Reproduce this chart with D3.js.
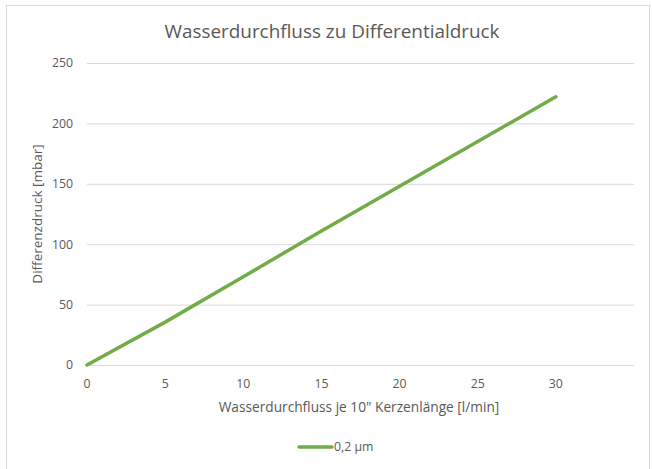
<!DOCTYPE html>
<html><head><meta charset="utf-8">
<script src="https://cdn.jsdelivr.net/npm/d3@7"></script>
<style>body{margin:0;background:#fff}svg{display:block}</style>
</head><body>
<script>
const flow = [0, 5, 10, 15, 20, 25, 30];
const pressure = [0, 35.5, 73, 111, 148, 185, 222];
const xTicks = [0, 5, 10, 15, 20, 25, 30];
const yTicks = [0, 50, 100, 150, 200, 250];
const seriesName = "0,2 µm";
const title = "Wasserdurchfluss zu Differentialdruck";
const xTitle = "Wasserdurchfluss je 10\" Kerzenlänge [l/min]";
const yTitle = "Differenzdruck [mbar]";

const W = 652, H = 469;
const font = "'Open Sans', sans-serif";
const grey = "#595959";
const svg = d3.select("body").append("svg").attr("width", W).attr("height", H);
svg.append("rect").attr("x", 6.5).attr("y", 5.5).attr("width", 643).attr("height", 470)
  .attr("fill", "#fff").attr("stroke", "#d9d9d9");

const x = d3.scaleLinear().domain([0, 35]).range([87, 634]);
const y = d3.scaleLinear().domain([0, 250]).range([365, 63]);

svg.append("g").selectAll("line").data(yTicks).join("line")
  .attr("x1", x(0)).attr("x2", x(35))
  .attr("y1", d => y(d) + 0.5).attr("y2", d => y(d) + 0.5)
  .attr("stroke", "#d9d9d9").attr("stroke-width", 1);

svg.append("g").selectAll("text").data(yTicks).join("text")
  .attr("x", 73).attr("y", d => y(d)).attr("dy", "0.35em")
  .attr("text-anchor", "end").attr("font-family", font).attr("font-size", 12.3)
  .attr("fill", grey).text(d => d);

svg.append("g").selectAll("text").data(xTicks).join("text")
  .attr("x", d => x(d)).attr("y", 388)
  .attr("text-anchor", "middle").attr("font-family", font).attr("font-size", 12.3)
  .attr("fill", grey).text(d => d);

const line = d3.line().x(d => x(d[0])).y(d => y(d[1]));
svg.append("path").datum(flow.map((f, i) => [f, pressure[i]]))
  .attr("d", line).attr("fill", "none").attr("stroke", "#70ad47")
  .attr("stroke-width", 3.5).attr("stroke-linecap", "round").attr("stroke-linejoin", "round");

svg.append("text").attr("x", 332).attr("y", 38).attr("text-anchor", "middle")
  .attr("font-family", font).attr("font-size", 18.9).attr("fill", grey).text(title);

svg.append("text").attr("x", 359).attr("y", 412).attr("text-anchor", "middle")
  .attr("font-family", font).attr("font-size", 13.7).attr("fill", grey).text(xTitle);

svg.append("text").attr("transform", "translate(42,214) rotate(-90)").attr("text-anchor", "middle")
  .attr("font-family", font).attr("font-size", 13.5).attr("fill", grey).text(yTitle);

svg.append("line").attr("x1", 299).attr("x2", 332).attr("y1", 447).attr("y2", 447)
  .attr("stroke", "#70ad47").attr("stroke-width", 3.5).attr("stroke-linecap", "round");
svg.append("text").attr("x", 334).attr("y", 447).attr("dy", "0.35em")
  .attr("font-family", font).attr("font-size", 12.3).attr("fill", grey).text(seriesName);
</script>
</body></html>
